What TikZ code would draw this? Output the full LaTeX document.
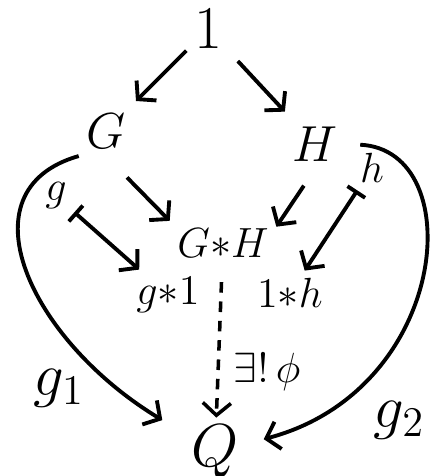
\documentclass[tikz,border=0pt]{standalone}
\usepackage{tikz}
\usetikzlibrary{arrows.meta, positioning}
\tikzstyle{obj} = [inner sep=2pt, font=\Large]
\tikzstyle{bigobj} = [obj, font=\LARGE]
\tikzstyle{prodobj} = [obj, font=\large]
\tikzstyle{elem} = [obj, font=\large]
\tikzstyle{maplabel} = [obj, font=\LARGE]
\tikzstyle{philabel} = [obj, font=\large]
\tikzstyle{arrow} = [line width=1.1pt, -{Straight Barb[length=3.5pt,width=8pt]}]
\tikzstyle{mapsto} = [line width=1.1pt, {Bar[width=6pt]}-{Straight Barb[length=3.5pt,width=8pt]}]
\tikzstyle{dasharrow} = [line width=1pt, dash pattern=on 3pt off 2.5pt,
    -{Straight Barb[length=3.5pt,width=8pt]}]

\begin{document}
\begin{tikzpicture}[x=0.01cm, y=-0.01cm]
  \useasboundingbox (0,0) rectangle (432,476);
  % Objects
  \node[bigobj](one) at (208,29){$1$};
  \node[obj](G) at (106,131){$G$};
  \node[obj](H) at (315,144){$H$};
  \node[prodobj](GH) at (223,243){$G{*}H$};
  \node[prodobj](gone) at (168,295){$g{*}1$};
  \node[prodobj](oneh) at (290,293){$1{*}h$};
  \node[bigobj](Q) at (215,452){$Q$};
  % Elements
  \node[elem](g) at (56,196){$g$};
  \node[elem](h) at (372,168){$h$};

  % Inclusions
  \draw[arrow, shorten >=0.07cm](one) -- (G);
  \draw[arrow, shorten <=0.12cm, shorten >=0.1cm](one) -- (H);
  \draw[arrow, shorten <=0.3cm](G.south) -- (GH.north west);
  \draw[arrow, shorten <=0.2cm](H.south) -- (GH.17);

  % Elements mapped
  \draw[mapsto](g) -- (gone);
  \draw[mapsto](h) -- (oneh);

  % Maps to Q
  \draw[arrow, shorten >=0.25cm](G.south west) .. controls (-40,190) and (30,340) .. (Q)
    node[maplabel, pos=0.85, left=0.27cm]{$g_1$};
  \draw[arrow, shorten <=0.15cm, shorten >=0.18cm](H.east) .. controls (470,150) and (450,390) .. (Q)
    node[maplabel, pos=0.8, anchor=north west, xshift=0.18cm]{$g_2$};
  \draw[dasharrow, shorten <=0.17cm](GH) -- (Q)
    node[philabel, pos=0.7, right=0.07cm]{$\exists!\,\phi$};
\end{tikzpicture}
\end{document}
